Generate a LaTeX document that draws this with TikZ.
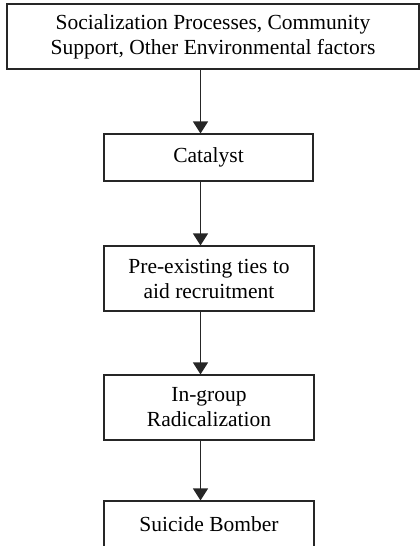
\documentclass[tikz,border=0pt]{standalone}
\usepackage{fontspec}
\setmainfont{Liberation Serif}
\usetikzlibrary{arrows.meta}
\begin{document}
\begin{tikzpicture}[x=1pt,y=-1pt,
  box/.style={draw=black!85,line width=1.1pt,align=center,inner sep=0pt,
    font=\fontsize{21.5}{25}\selectfont},
  flow/.style={draw=black!85,line width=1.1pt,-{Triangle[width=15pt,length=12pt]}}]
\useasboundingbox (0,0) rectangle (420,546);
\clip (0,0) rectangle (420,546);
\node[box,minimum width=412pt,minimum height=65pt] (a) at (213,36.5)
  {Socialization Processes, Community\\Support, Other Environmental factors};
\node[box,minimum width=209pt,minimum height=47pt] (b) at (208.5,157.5) {Catalyst};
\node[box,minimum width=210pt,minimum height=65pt] (c) at (209,278.5)
  {Pre-existing ties to\\aid recruitment};
\node[box,minimum width=210pt,minimum height=65pt] (d) at (209,407.5)
  {In-group\\Radicalization};
\node[box,minimum width=210pt,minimum height=47pt] (e) at (209,524.5) {Suicide Bomber};
\coordinate (ax) at (200.5,0);
\draw[flow] (a.south -| ax) -- (b.north -| ax);
\draw[flow] (b.south -| ax) -- (c.north -| ax);
\draw[flow] (c.south -| ax) -- (d.north -| ax);
\draw[flow] (d.south -| ax) -- (e.north -| ax);
\end{tikzpicture}
\end{document}
